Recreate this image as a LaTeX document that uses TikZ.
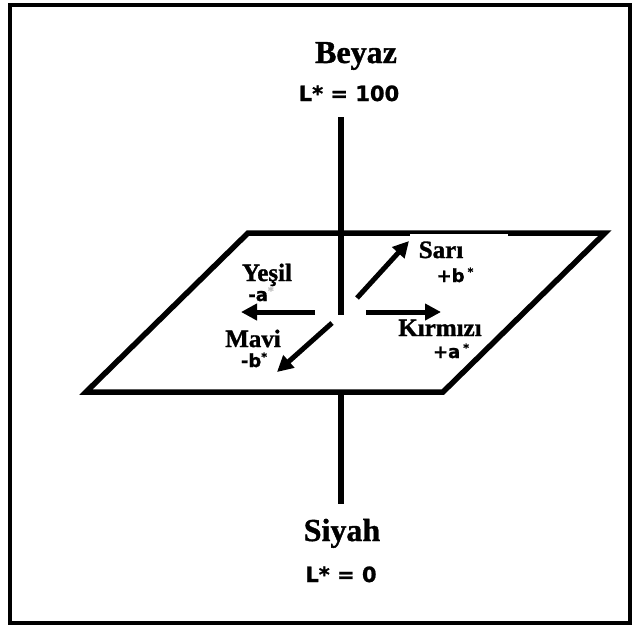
\documentclass[tikz,border=0pt]{standalone}
\usepackage{fontspec}
\setmainfont{Liberation Serif}
\newfontfamily\serifbold{Liberation Serif Bold}[FakeBold=1.2]
\newfontfamily\sansbold{DejaVu Sans Bold}[FakeBold=1]
\usetikzlibrary{arrows.meta}
\newcommand\starsup{\raisebox{0.35em}{\fontsize{11}{11}\selectfont *}}
\begin{document}
\begin{tikzpicture}[x=1pt,y=-1pt,
  every node/.style={inner sep=0pt, anchor=base},
  bigname/.style={font=\serifbold\fontsize{32}{36}\selectfont},
  valuetxt/.style={font=\sansbold\fontsize{21}{24}\selectfont},
  nametxt/.style={font=\serifbold\fontsize{25}{28}\selectfont},
  signtxt/.style={font=\sansbold\fontsize{18}{20}\selectfont},
  heavy/.style={line width=5.5pt},
  arr/.style={line width=5pt, -{Triangle[length=16pt,width=16pt]}}]
\useasboundingbox (0,0) rectangle (632,625);
\fill[white] (0,0) rectangle (632,625);
\draw[line width=4pt] (10,5) rectangle (629.5,623);
% plane
\coordinate (TL) at (248,233);
\coordinate (TR) at (605,233);
\coordinate (BR) at (443,392);
\coordinate (BL) at (86,392);
\draw[heavy, line join=miter] (TL) -- (TR) -- (BR) -- (BL) -- cycle;
\fill[white] (410,233.5) rectangle (508,262);
% axis
\coordinate (ax1) at (341,117);
\coordinate (ax2) at (341,315);
\coordinate (ax3) at (341,392);
\coordinate (ax4) at (341,504);
\draw[heavy] (ax1) -- (ax2);
\draw[heavy] (ax3) -- (ax4);
% arrows
\coordinate (yS) at (315,312); \coordinate (yE) at (241,312);
\coordinate (kS) at (366,312); \coordinate (kE) at (441,312);
\coordinate (sS) at (357,298); \coordinate (sE) at (409,241);
\coordinate (mS) at (332,323); \coordinate (mE) at (277,372);
\draw[arr] (yS) -- (yE);
\draw[arr] (kS) -- (kE);
\draw[arr] (sS) -- (sE);
\draw[arr] (mS) -- (mE);
% labels
\node[bigname] (beyaz) at (356,63) {Beyaz};
\node[valuetxt] (l100) at (349,101) {L* = 100};
\node[bigname] (siyah) at (342,541) {Siyah};
\node[valuetxt] (l0) at (341,582) {L* = 0};
\node[nametxt] (sari) at (441,258) {Sarı};
\node[signtxt] (pb) at (455,282) {+b\,\starsup};
\node[nametxt] (yesil) at (267,281) {Yeşil};
\node[signtxt] (ma) at (261,301) {-a\textcolor{gray!50}{\starsup}};
\node[nametxt] (mavi) at (253,347) {Mavi};
\node[signtxt] (mb) at (254,367) {-b\starsup};
\node[nametxt] (kirmizi) at (440,336) {Kırmızı};
\node[signtxt] (pa) at (451,358) {+a\,\starsup};
\end{tikzpicture}
\end{document}
